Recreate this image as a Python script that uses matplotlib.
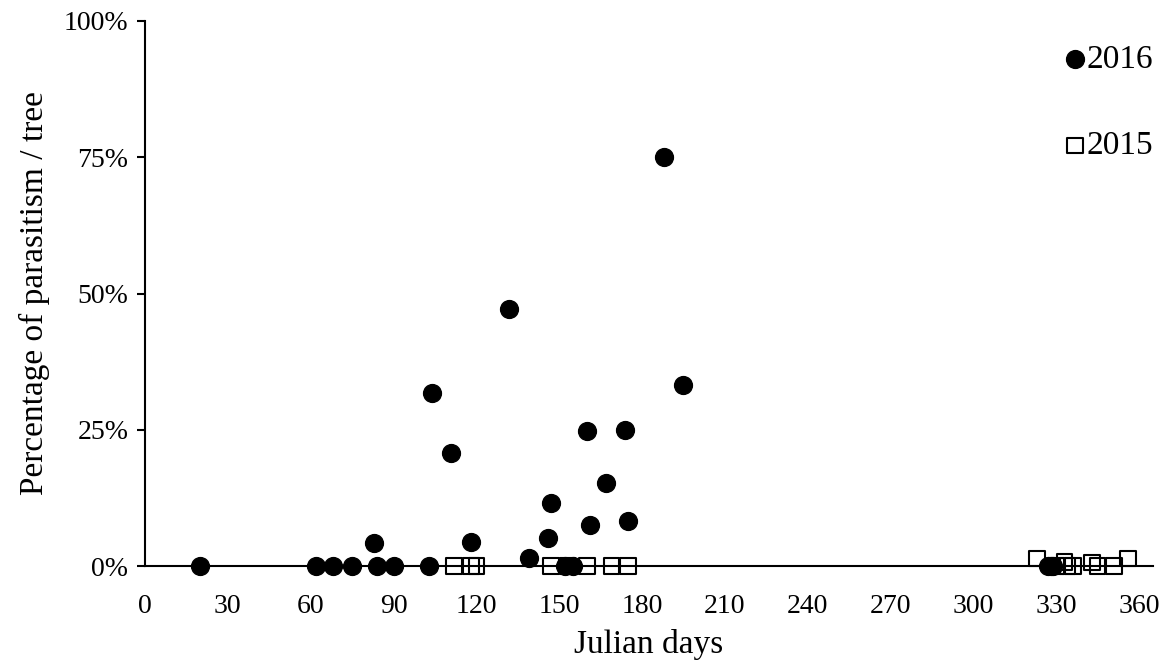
import matplotlib
matplotlib.use('Agg')
import matplotlib.pyplot as plt
from matplotlib.ticker import PercentFormatter

# 2016 samples (filled circles): Julian day, % parasitism
days_2016 = [20, 62, 68, 75, 83, 84, 90, 103, 104, 111, 118, 132, 139, 146, 147,
             152, 155, 160, 161, 167, 174, 175, 188, 195, 327, 328, 329]
pct_2016 = [0, 0, 0, 0, 4.2, 0, 0, 0, 31.8, 20.7, 4.5, 47.1, 1.4, 5.2, 11.6,
            0, 0, 24.7, 7.5, 15.2, 25.0, 8.3, 75.0, 33.2, 0, 0, 0]

# 2015 samples (open squares)
days_2015 = [112, 118, 120, 147, 153, 160, 169, 175,
             323, 330, 333, 334, 336, 343, 345, 351, 356]
pct_2015 = [0, 0, 0, 0, 0, 0, 0, 0,
            1.4, 0, 0.8, 0, 0, 0.7, 0, 0, 1.4]

x_ticks = list(range(0, 361, 30))
y_ticks = [0, 25, 50, 75, 100]

plt.rcParams['font.family'] = ['Liberation Serif', 'DejaVu Serif']

fig = plt.figure(figsize=(11.74, 6.66), dpi=100)
ax = fig.add_axes([0.1235, 0.150, 0.8585, 0.8185])

ax.scatter(days_2016, pct_2016, marker='o', s=165, color='black',
           label='2016', zorder=3, clip_on=False)
ax.scatter(days_2015, pct_2015, marker='s', s=125, facecolors='none',
           edgecolors='black', linewidths=1.5, label='2015', zorder=4, clip_on=False)

ax.set_xlim(0, 365)
ax.set_ylim(0, 100)
ax.set_xticks(x_ticks)
ax.set_yticks(y_ticks)
ax.yaxis.set_major_formatter(PercentFormatter(decimals=0))

for side in ['top', 'right']:
    ax.spines[side].set_visible(False)
for side in ['left', 'bottom']:
    ax.spines[side].set_linewidth(1.5)

ax.tick_params(axis='y', direction='out', length=6, width=1.5, labelsize=20, pad=6)
ax.tick_params(axis='x', length=0, labelsize=20, pad=20)

ax.set_xlabel('Julian days', fontsize=24, labelpad=7)
ax.set_ylabel('Percentage of parasitism / tree', fontsize=24, labelpad=10)

ax.legend(loc='upper left', bbox_to_anchor=(0.9127, 0.957), frameon=False,
          fontsize=24, handlelength=0.6, handletextpad=0.05, labelspacing=1.68,
          markerscale=1.0, borderaxespad=0, borderpad=0)

fig.savefig('out.png', dpi=100)
